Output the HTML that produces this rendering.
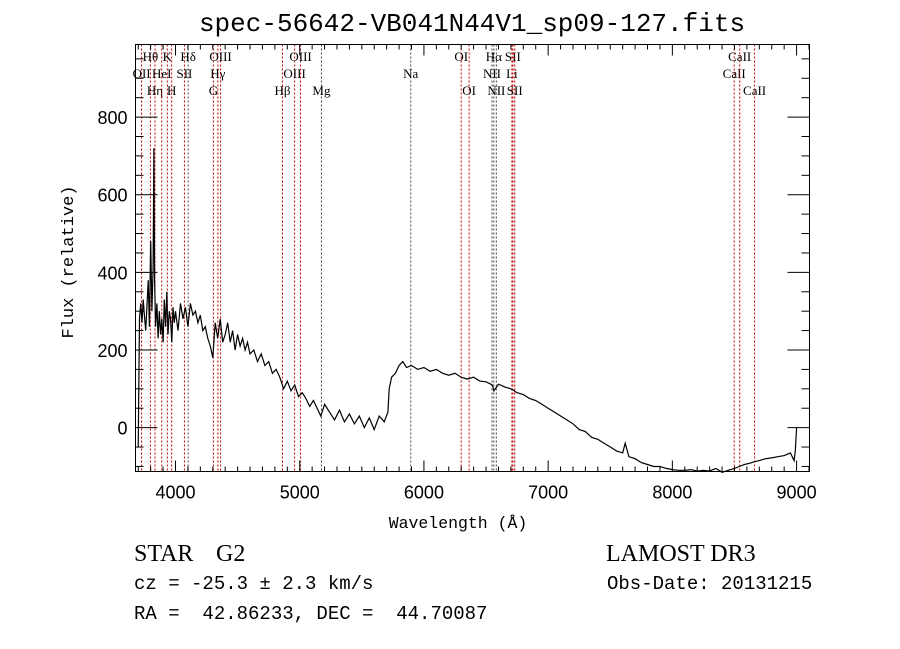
<!DOCTYPE html>
<html><head><meta charset="utf-8"><style>
html,body{margin:0;padding:0;background:#fff;}
#wrap{position:relative;width:900px;height:649px;overflow:hidden;}
svg text{fill:#000;}
</style></head><body>
<div id="wrap">
<svg id="chart" width="900" height="649" viewBox="0 0 900 649" xmlns="http://www.w3.org/2000/svg">
<text x="472" y="31" text-anchor="middle" font-family="Liberation Mono, monospace" font-size="26">spec-56642-VB041N44V1_sp09-127.fits</text>
<text x="458" y="528" text-anchor="middle" font-family="Liberation Mono, monospace" font-size="16.5">Wavelength (Å)</text>
<text transform="translate(73,262) rotate(-90)" text-anchor="middle" font-family="Liberation Mono, monospace" font-size="17">Flux (relative)</text>
<text x="134" y="561" font-family="Liberation Serif, serif" font-size="24">STAR</text>
<text x="216" y="561" font-family="Liberation Serif, serif" font-size="24">G2</text>
<text x="606" y="561" font-family="Liberation Serif, serif" font-size="24">LAMOST DR3</text>
<text x="134" y="589" font-family="Liberation Mono, monospace" font-size="19">cz = -25.3 ± 2.3 km/s</text>
<text x="607" y="589" font-family="Liberation Mono, monospace" font-size="19">Obs-Date: 20131215</text>
<text x="134" y="619" font-family="Liberation Mono, monospace" font-size="19" xml:space="preserve">RA =  42.86233, DEC =  44.70087</text>
<g id="lines"></g>
<g id="series"></g>
<g id="axes"></g>
</svg>
</div>
<script>
const xTicks = [4000,5000,6000,7000,8000,9000];
const yTicks = [0,200,400,600,800];
const lineNames = ["OII","Hθ","Hη","HeI","K","H","SII","Hδ","G","Hγ","OIII","Hβ","OIII","OIII","Mg","Na","OI","OI","NII","Hα","NII","Li","SII","SII","CaII","CaII","CaII"];
const lineWl = [3727,3798,3835,3889,3934,3969,4072,4102,4305,4341,4363,4861,4959,5007,5175,5894,6300,6364,6548,6563,6583,6708,6716,6731,8498,8542,8662];
const lineRow = [2,1,3,2,1,3,2,1,3,2,1,3,2,1,3,2,1,3,2,1,3,2,1,3,2,1,3];
const lineBlack = [0,0,0,0,0,0,0,1,0,0,0,0,0,0,1,1,0,0,1,1,1,0,0,0,0,0,0];
const wavelengths = [3700,3710,3720,3730,3740,3750,3760,3770,3780,3790,3800,3810,3820,3826,3832,3840,3850,3860,3870,3880,3890,3900,3910,3920,3930,3940,3950,3960,3970,3980,3990,4000,4020,4040,4060,4080,4100,4120,4140,4160,4180,4200,4220,4240,4260,4280,4300,4320,4340,4360,4380,4400,4420,4440,4460,4480,4500,4520,4540,4560,4580,4600,4630,4660,4690,4720,4750,4780,4810,4840,4870,4900,4930,4960,4990,5020,5050,5080,5110,5140,5170,5200,5240,5280,5320,5360,5400,5440,5480,5520,5560,5600,5640,5680,5710,5720,5740,5770,5800,5830,5860,5900,5950,6000,6050,6100,6150,6200,6250,6300,6350,6400,6450,6500,6550,6563,6600,6650,6700,6750,6800,6850,6900,6950,7000,7050,7100,7150,7200,7250,7300,7350,7400,7450,7500,7550,7600,7620,7650,7700,7750,7800,7850,7900,7950,8000,8050,8100,8150,8200,8250,8300,8350,8400,8450,8500,8540,8580,8620,8660,8700,8750,8800,8850,8900,8950,8980,8990,9000];
const flux = [-50,280,320,270,330,290,250,310,380,260,480,300,410,720,380,260,320,230,300,240,280,220,330,260,350,240,300,280,220,310,270,300,250,320,280,310,260,320,290,300,270,290,250,260,230,210,180,270,230,280,220,240,270,220,250,200,240,210,230,200,220,190,200,170,190,160,170,140,150,130,100,120,95,110,80,90,75,55,70,50,30,60,40,20,45,15,35,10,30,0,25,-5,30,15,40,100,130,140,160,170,155,160,150,155,145,150,140,135,140,130,125,130,120,118,110,95,112,105,100,90,85,75,70,60,50,40,30,20,10,-5,-10,-25,-30,-40,-50,-60,-65,-40,-75,-80,-90,-95,-100,-100,-105,-108,-110,-110,-108,-112,-110,-112,-105,-115,-110,-105,-100,-95,-92,-88,-85,-80,-78,-75,-72,-65,-85,-60,0];

const L=135.5,R=809.5,T=44.5,B=471.5;
const X0=3678,X1=9104,Y0=-113,Y1=987;
function xs(v){return L+(v-X0)/(X1-X0)*(R-L);}
function ys(v){return B-(v-Y0)/(Y1-Y0)*(B-T);}
const NS="http://www.w3.org/2000/svg";
function mk(tag,attrs,parent){const e=document.createElementNS(NS,tag);for(const k in attrs)e.setAttribute(k,attrs[k]);parent.appendChild(e);return e;}

const gl=document.getElementById('lines');
lineWl.forEach((w,i)=>{
  const x=xs(w);
  const ln=mk('line',{x1:x,x2:x,y1:T,y2:B,stroke:lineBlack[i]?'#444':'#c00000','stroke-width':1,'stroke-dasharray':'2,2'},gl);
  
  
  const t=mk('text',{x:x,y:61+(lineRow[i]-1)*17,'text-anchor':'middle','font-family':'Liberation Serif, serif','font-size':13},gl);
  t.textContent=lineNames[i];
  
  
});

const gs=document.getElementById('series');
let d='';
wavelengths.forEach((w,i)=>{d+=(i?'L':'M')+xs(w).toFixed(1)+','+ys(flux[i]).toFixed(1);});
const p=mk('path',{d:d,fill:'none',stroke:'#000','stroke-width':1.2},gs);



const ga=document.getElementById('axes');
const box=mk('rect',{x:L,y:T,width:R-L,height:B-T,fill:'none',stroke:'#000','stroke-width':1},ga);


for(let w=3700;w<=9100;w+=100){
  const x=xs(w);const major=w%1000===0;const len=major?11:5;
  mk('line',{x1:x,x2:x,y1:B,y2:B-len,stroke:'#000'},ga);
  mk('line',{x1:x,x2:x,y1:T,y2:T+len,stroke:'#000'},ga);
}
xTicks.forEach(v=>{
  const t=mk('text',{x:xs(v),y:B+27,'text-anchor':'middle','font-family':'Liberation Sans, sans-serif','font-size':18},ga);
  t.textContent=v;
  
  
});
for(let v=-100;v<=950;v+=50){
  const y=ys(v);const major=v%200===0;const len=major?22:8;
  mk('line',{x1:L,x2:L+len,y1:y,y2:y,stroke:'#000'},ga);
  mk('line',{x1:R,x2:R-len,y1:y,y2:y,stroke:'#000'},ga);
}
yTicks.forEach(v=>{
  const t=mk('text',{x:L-8,y:ys(v)+7,'text-anchor':'end','font-family':'Liberation Sans, sans-serif','font-size':18},ga);
  t.textContent=v;
  
  
});
</script>
</body></html>
